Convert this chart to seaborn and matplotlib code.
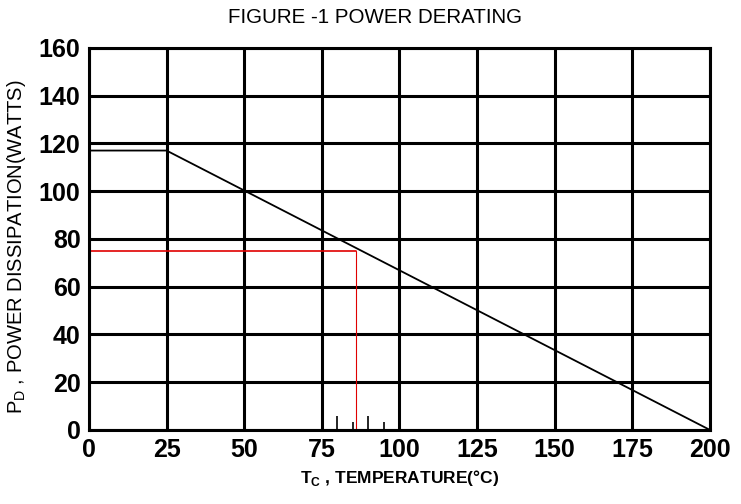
import matplotlib
matplotlib.use("Agg")
import matplotlib.pyplot as plt
import seaborn as sns
import pandas as pd

# derating curve (case temperature vs max power)
temp_c = [0, 25, 200]
power_w = [117, 117, 0]

# operating point marked in red
op_temp = 86
op_power = 75

# small marks on the bottom axis
mark_temp = [80, 85, 90, 95]
mark_len = [6, 3.5, 6, 3.5]

x_ticks = [0, 25, 50, 75, 100, 125, 150, 175, 200]
y_ticks = [0, 20, 40, 60, 80, 100, 120, 140, 160]

sns.set_style("white")
plt.rcParams['font.family'] = ['Liberation Sans', 'DejaVu Sans']
plt.rcParams['text.color'] = 'black'
plt.rcParams['axes.labelcolor'] = 'black'
plt.rcParams['xtick.color'] = 'black'
plt.rcParams['ytick.color'] = 'black'

df = pd.DataFrame({'temp': temp_c, 'power': power_w})

fig = plt.figure(figsize=(7.41, 5.04), dpi=100)
ax = fig.add_axes([0.120, 0.147, 0.838, 0.758])

ax.set_xlim(0, 200)
ax.set_ylim(0, 160)
ax.set_xticks(x_ticks)
ax.set_yticks(y_ticks)
ax.grid(True, color='black', linewidth=2.2)
ax.set_axisbelow(True)
for s in ax.spines.values():
    s.set_color('black')
    s.set_linewidth(2.2)

sns.lineplot(data=df, x='temp', y='power', color='black', linewidth=1.3, ax=ax)

ax.plot([0, op_temp], [op_power, op_power], color='#e00000', linewidth=1.2)
ax.plot([op_temp, op_temp], [0, op_power], color='#e00000', linewidth=0.8)
ax.vlines(mark_temp, 0, mark_len, color='black', linewidth=1.2)

ax.tick_params(length=0, pad=6, labelsize=18)
for lab in ax.get_xticklabels() + ax.get_yticklabels():
    lab.set_fontweight('bold')

ax.set_xlabel(r'T$_{\mathregular{C}}$ , TEMPERATURE(°C)', fontsize=12.5,
              fontweight='bold', labelpad=4)
ax.set_ylabel(r'P$_{\mathregular{D}}$ , POWER DISSIPATION(WATTS)', fontsize=14.5,
              labelpad=6)
ax.yaxis.set_label_coords(-0.098, 0.48)
fig.suptitle('FIGURE -1 POWER DERATING', fontsize=14.8, x=0.506, y=0.966,
             va='center')

fig.savefig('out.png', dpi=100)
